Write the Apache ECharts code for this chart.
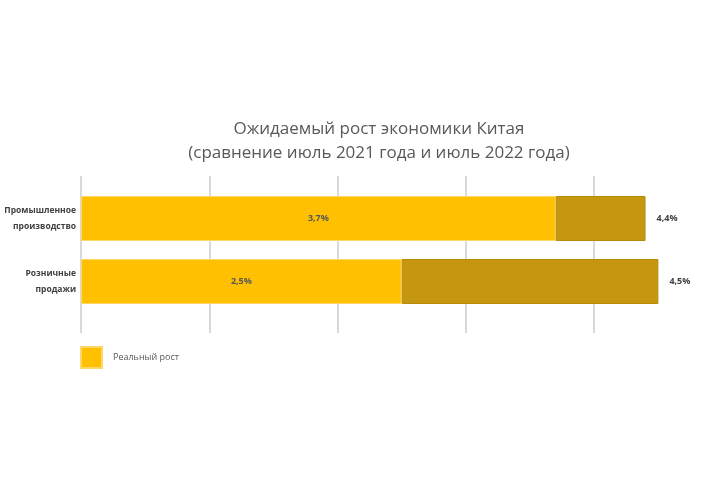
<!DOCTYPE html>
<html><head><meta charset="utf-8">
<script src="https://cdn.jsdelivr.net/npm/echarts@6/dist/echarts.min.js"></script>
<style>html,body{margin:0;padding:0;background:#fff}#c{width:720px;height:480px}</style>
</head><body><div id="c"></div>
<script>
const categories = ['Промышленное\nпроизводство', 'Розничные\nпродажи'];
const realGrowth = [3.7, 2.5];
const expectedTotal = [4.4, 4.5];
const legendName = 'Реальный рост';
const titleLines = ['Ожидаемый рост экономики Китая', '(сравнение июль 2021 года и июль 2022 года)'];

const fmt = v => String(v).replace('.', ',') + '%';
const remainder = expectedTotal.map((t, i) => +(t - realGrowth[i]).toFixed(2));

const chart = echarts.init(document.getElementById('c'), null, {renderer: 'canvas'});
const AX_MAX = 4.9;
chart.setOption({
  backgroundColor: '#fff',
  animation: false,
  title: {
    text: titleLines.join('\n'),
    left: 379, top: 117, textAlign: 'center', padding: 0,
    textStyle: {fontFamily: 'Open Sans', fontSize: 17, fontWeight: 'normal', color: '#595959', lineHeight: 24}
  },
  legend: {
    data: [legendName], left: 80, top: 346, itemWidth: 21, itemHeight: 21, padding: 0,
    icon: 'rect',
    textStyle: {fontFamily: 'Open Sans', fontSize: 9, color: '#595959', padding: [0, 0, 0, 6]}
  },
  grid: [
    {left: 81, width: 628.7, top: 187, height: 126, containLabel: false, outerBoundsMode: 'none'},
    {left: 81, width: 628.7, top: 176, height: 157, containLabel: false, outerBoundsMode: 'none'}
  ],
  xAxis: [
    {gridIndex: 0, type: 'value', min: 0, max: AX_MAX, interval: 1, axisLabel: {show: false}, axisLine: {show: false}, axisTick: {show: false}, splitLine: {show: false}},
    {gridIndex: 1, type: 'value', min: 0, max: AX_MAX, interval: 1, axisLabel: {show: false}, axisLine: {show: false}, axisTick: {show: false},
      splitLine: {show: true, showMaxLine: false, lineStyle: {color: '#d9d9d9', width: 2}}}
  ],
  yAxis: [
    {gridIndex: 0, type: 'category', data: categories, inverse: true,
      axisLine: {show: false}, axisTick: {show: false},
      axisLabel: {fontFamily: 'Open Sans', fontSize: 8.5, fontWeight: 'bold', color: '#404040', margin: 5, lineHeight: 16, align: 'right'}},
    {gridIndex: 1, type: 'category', data: categories, show: false}
  ],
  series: [
    {name: legendName, type: 'bar', stack: 's', data: realGrowth, barWidth: 45, z: 3,
      itemStyle: {color: '#FFC000', borderColor: '#FFD766', borderWidth: 1},
      label: {show: true, position: 'inside', formatter: p => fmt(p.value), fontFamily: 'Open Sans', fontSize: 9, fontWeight: 'bold', color: '#595959'}},
    {name: 'Ожидаемый рост', type: 'bar', stack: 's', data: remainder, barWidth: 45, z: 3,
      itemStyle: {color: '#C5960F', borderColor: '#B88A0A', borderWidth: 1},
      label: {show: true, position: 'right', distance: 11, formatter: p => fmt(expectedTotal[p.dataIndex]), fontFamily: 'Open Sans', fontSize: 9, fontWeight: 'bold', color: '#404040'}}
  ]
});
</script></body></html>
